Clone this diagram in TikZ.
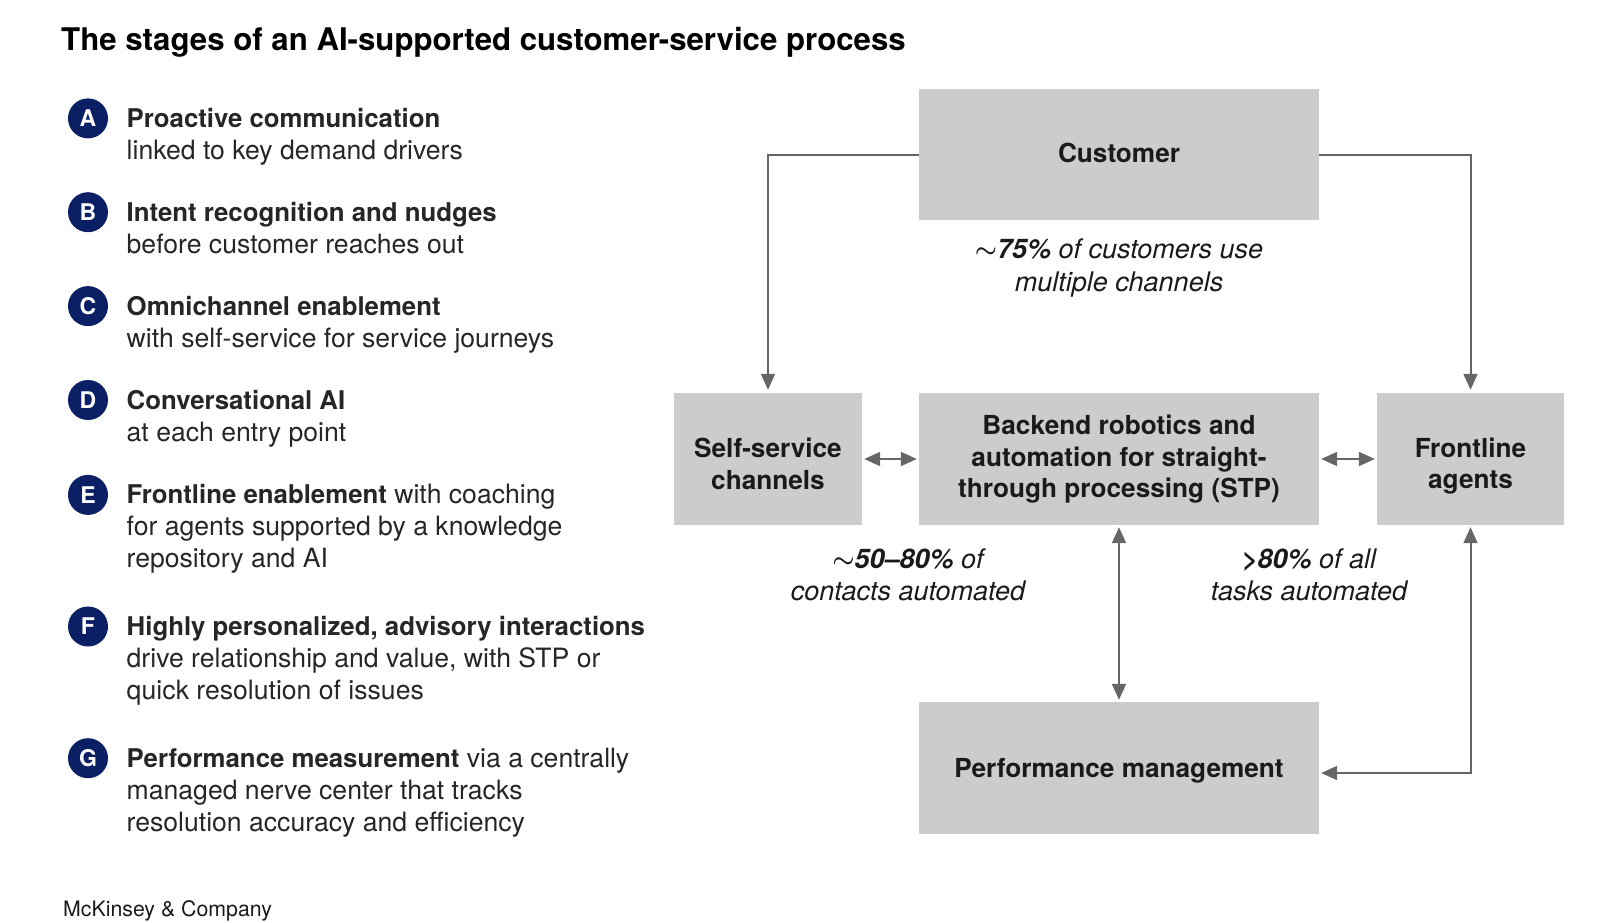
\documentclass[tikz,border=0pt]{standalone}
\usepackage{amsmath}
\usepackage{fontspec}
\setmainfont{TeX Gyre Heros}
\usetikzlibrary{arrows.meta}
\definecolor{boxgray}{HTML}{CCCCCC}
\definecolor{arrowgray}{HTML}{666666}
\definecolor{navy}{HTML}{0B1F65}
\definecolor{txt}{HTML}{1A1A1A}
\definecolor{bodytxt}{HTML}{262626}
\newcommand{\tl}{\raisebox{0.05em}{$\boldsymbol{\sim}$}}
\newcommand{\bt}[1]{{\fontsize{25.8}{32}\selectfont\bfseries #1}}
\tikzset{
  box/.style={fill=boxgray, inner sep=0pt, align=center, text=txt,
    font=\fontsize{26.2}{31.5}\selectfont\bfseries},
  lbl/.style={inner sep=0pt, align=center, text=txt,
    font=\fontsize{27}{32.5}\selectfont\itshape},
  conn/.style={draw=arrowgray, line width=2pt, -{Triangle[length=16pt,width=14pt]}, shorten >=3pt},
  dconn/.style={draw=arrowgray, line width=2pt, {Triangle[length=16pt,width=14pt]}-{Triangle[length=16pt,width=14pt]}, shorten >=2pt, shorten <=2pt},
  badge/.style={circle, fill=navy, minimum size=40pt, inner sep=0pt, text=white,
    font=\fontsize{23}{23}\selectfont\bfseries},
  itemline/.style={anchor=base west, inner sep=0pt, text=bodytxt, font=\fontsize{26.6}{32}\selectfont},
}
\begin{document}
\begin{tikzpicture}[x=1pt,y=-1pt]
\useasboundingbox (0,0) rectangle (1600,923);
% title
\node[anchor=base west, inner sep=0pt, text=black, font=\fontsize{31.2}{36}\selectfont\bfseries] (title) at (61,51) {The stages of an AI-supported customer-service process};
% list
\node[badge] (bA) at (88,118.4) {A};
\node[itemline] (a1) at (126.5,127.4) {\bt{Proactive communication}};
\node[itemline] (a2) at (126.5,159.4) {linked to key demand drivers};
\node[badge] (bB) at (88,212.2) {B};
\node[itemline] (b1) at (126.5,221.2) {\bt{Intent recognition and nudges}};
\node[itemline] (b2) at (126.5,253.2) {before customer reaches out};
\node[badge] (bC) at (88,306.1) {C};
\node[itemline] (c1) at (126.5,315.1) {\bt{Omnichannel enablement}};
\node[itemline] (c2) at (126.5,347.1) {with self-service for service journeys};
\node[badge] (bD) at (88,400) {D};
\node[itemline] (d1) at (126.5,409) {\bt{Conversational AI}};
\node[itemline] (d2) at (126.5,441) {at each entry point};
\node[badge] (bE) at (88,494.9) {E};
\node[itemline] (e1) at (126.5,503.9) {\bt{Frontline enablement} with coaching};
\node[itemline] (e2) at (126.5,535.9) {for agents supported by a knowledge};
\node[itemline] (e3) at (126.5,567.9) {repository and AI};
\node[badge] (bF) at (88,626.5) {F};
\node[itemline] (f1) at (126.5,635.5) {\bt{Highly personalized, advisory interactions}};
\node[itemline] (f2) at (126.5,667.5) {drive relationship and value, with STP or};
\node[itemline] (f3) at (126.5,699.5) {quick resolution of issues};
\node[badge] (bG) at (88,758.2) {G};
\node[itemline] (g1) at (126.5,767.2) {\bt{Performance measurement} via a centrally};
\node[itemline] (g2) at (126.5,799.2) {managed nerve center that tracks};
\node[itemline] (g3) at (126.5,831.2) {resolution accuracy and efficiency};
% footer
\node[anchor=base west, inner sep=0pt, text=txt, font=\fontsize{21.3}{24}\selectfont] (foot) at (63,916) {McKinsey \& Company};
% boxes
\node[box, minimum width=400pt, minimum height=131pt] (cust) at (1119,154.5) {};
\node[box] (custT) at (1119,153) {Customer};
\node[box, minimum width=188pt, minimum height=132pt] (self) at (768,459) {};
\node[box] (selfT) at (768,464) {Self-service\\channels};
\node[box, minimum width=400pt, minimum height=132pt] (back) at (1119,459) {};
\node[box] (backT) at (1119,459.5) {Backend robotics and\\automation for straight-\\through processing (STP)};
\node[box, minimum width=187pt, minimum height=132pt] (front) at (1470.5,459) {};
\node[box] (frontT) at (1470.5,466) {Frontline\\agents};
\node[box, minimum width=400pt, minimum height=132pt] (perf) at (1119,768) {};
\node[box] (perfT) at (1119,771) {Performance management};
% labels
\node[lbl] (l75) at (1119,268) {\textbf{\tl75\%} of customers use\\multiple channels};
\node[lbl] (l50) at (908,575) {\textbf{\tl50–80\%} of\\contacts automated};
\node[lbl] (l80) at (1309,575) {\textbf{>80\%} of all\\tasks automated};
% connectors
\draw[conn] (cust.west) -| (self.north);
\draw[conn] (cust.east) -| (front.north);
\draw[dconn] (self.east) -- (back.west);
\draw[dconn] (back.east) -- (front.west);
\draw[dconn] (back.south) -- (perf.north);
\coordinate (perfR) at ([yshift=-5pt]perf.east);
\draw[dconn] (perfR) -| (front.south);
\end{tikzpicture}
\end{document}
